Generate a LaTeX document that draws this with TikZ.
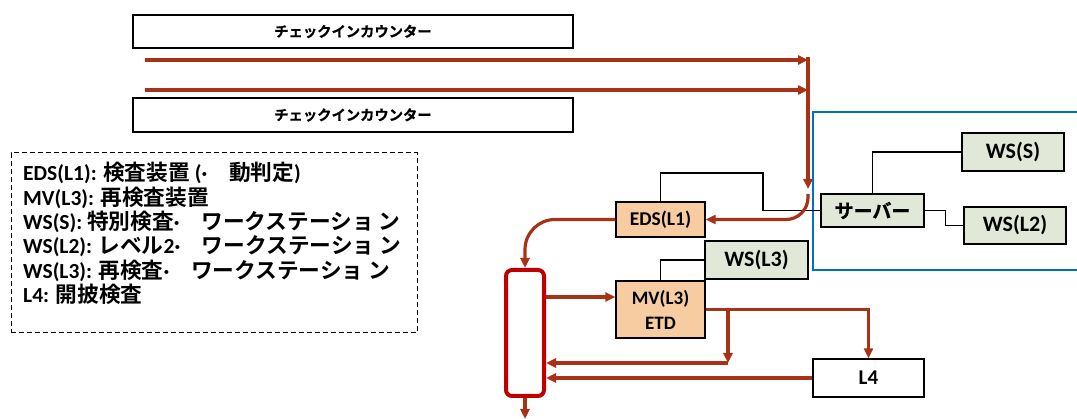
\documentclass[tikz,border=0pt]{standalone}
\usepackage{fontspec}
\setmainfont{Carlito}[UprightFont=* Bold,BoldFont=* Bold]
\newfontfamily\jpfont{Noto Sans CJK JP}[UprightFont=* Bold,BoldFont=* Bold]
\newfontfamily\jpheavy{Noto Sans CJK JP}[UprightFont=* Bold,BoldFont=* Bold,FakeBold=0.8]
\usetikzlibrary{arrows.meta}
\definecolor{flowred}{RGB}{168,50,22}
\definecolor{colred}{RGB}{192,0,0}
\definecolor{edsfill}{RGB}{246,204,160}
\definecolor{wsfill}{RGB}{226,232,216}
\definecolor{lanblue}{RGB}{0,112,192}
\newcommand\jp[1]{{\fontsize{21.7}{24.4}\jpfont #1}}

\begin{document}
\begin{tikzpicture}[x=1pt,y=-1pt,
  >={Triangle[length=10pt,width=9pt]},
  box/.style={draw,line width=1.2pt,inner sep=0pt},
  flow/.style={draw=flowred,line width=3.2pt},
  link/.style={draw=black,line width=1.2pt}]
\useasboundingbox (0,0) rectangle (1077,419);

% check-in counters
\node[box,minimum width=440pt,minimum height=33pt,font=\fontsize{14.3}{16}\jpheavy] (cnt1) at (353,31.5) {チェックインカウンター};
\node[box,minimum width=440pt,minimum height=34pt,font=\fontsize{14.3}{16}\jpheavy] (cnt2) at (353,115) {チェックインカウンター};
\coordinate (in1) at (145,60);
\coordinate (in2) at (145,90);
\coordinate (jtop) at (808,57);
\coordinate (jbend) at (808,189);
\coordinate (jcurve) at (808,194);
\draw[flow,->] (in1) -- (in1 -| jtop);
\draw[flow,->] (in2) -- (in2 -| jtop);
\draw[flow,->] (jtop) -- (jbend);

% legend
\node[draw,line width=1pt,dash pattern=on 5pt off 3pt,minimum width=406pt,minimum height=180pt] (legend) at (214,243) {};
\node[anchor=north west,inner sep=0pt,align=left,font=\fontsize{21.5}{24.4}\selectfont] (legtext) at (23,162)
  {EDS(L1): \jp{検査装置} (·\jp{　動判定})\\
   MV(L3): \jp{再検査装置}\\
   WS(S): \jp{特別検査}·\jp{　ワークステーショ ン}\\
   WS(L2): \jp{レベル}2·\jp{　ワークステーショ ン}\\
   WS(L3): \jp{再検査}·\jp{　ワークステーショ ン}\\
   L4: \jp{開披検査}};

% server network
\draw[draw=lanblue,line width=1.5pt] (1085,112) -| (813,270) -- (1085,270);
\node[box,fill=wsfill,minimum width=103pt,minimum height=33pt,font=\fontsize{19}{22}\jpheavy] (srv) at (872.5,210.5) {サーバー};
\node[box,fill=wsfill,minimum width=102pt,minimum height=38pt,font=\fontsize{22}{24}\selectfont] (wss) at (1013,152) {WS(S)};
\node[box,fill=wsfill,minimum width=102pt,minimum height=37pt,font=\fontsize{22}{24}\selectfont] (wsl2) at (1015,225.5) {WS(L2)};
\node[box,fill=wsfill,minimum width=103pt,minimum height=38pt,font=\fontsize{22}{24}\selectfont] (wsl3) at (756.5,260) {WS(L3)};
\draw[link] (srv.north) |- (wss.west);
\draw[link] (srv.east) -- ++(21,0) |- (wsl2.west);

% screening
\node[box,fill=edsfill,minimum width=89pt,minimum height=35pt,font=\fontsize{19.5}{21}\selectfont] (eds) at (660.5,219.5) {EDS(L1)};
\node[box,fill=edsfill,minimum width=89pt,minimum height=57pt,align=center,font=\fontsize{19}{25}\selectfont] (mv) at (660.5,309.5) {MV(L3)\\ETD};
\node[box,fill=white,minimum width=111pt,minimum height=38pt,font=\fontsize{21}{22}\selectfont] (l4) at (868.5,378) {L4};
\node[draw=colred,line width=4pt,rounded corners=6pt,minimum width=38pt,minimum height=126pt] (col) at (525,333) {};
\draw[link] (eds.north) |- (763,173) |- (srv.west);
\draw[link] (mv.north) |- (wsl3.west);

\draw[flow,->,rounded corners=22pt] (jcurve) |- (eds.east);
\draw[flow,->,rounded corners=30pt] (eds.west) -| (col.north);
\draw[flow,->] (col.east |- 0,297) -- (mv.west |- 0,297);
\coordinate (br) at (728,309.5);
\coordinate (rt) at (728,363);
\draw[flow,->] (mv.east) -| (l4.north);
\draw[flow,->] (br) -- (rt);
\draw[flow,->] (rt) -- (col.east |- rt);
\draw[flow,->] (l4.west) -- (col.east |- l4.west);
\draw[flow,->] (col.south) -- ++(0,21);
\end{tikzpicture}
\end{document}
